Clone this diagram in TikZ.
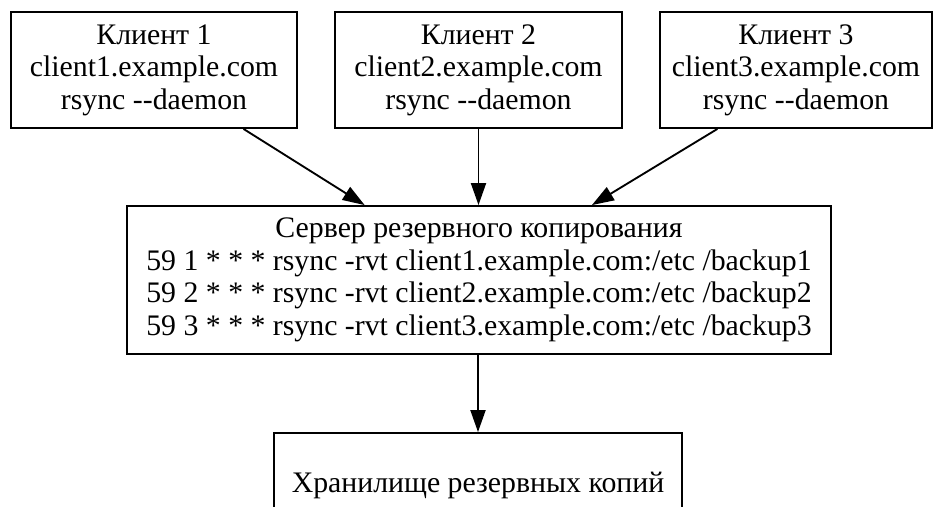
\documentclass[tikz,border=0pt]{standalone}
\usepackage{fontspec}
\setmainfont{Liberation Serif}
\usetikzlibrary{arrows.meta,calc}
\begin{document}
\begin{tikzpicture}[x=0.75pt,y=-0.75pt,
  box/.style={draw, line width=1.4pt, inner sep=0pt, align=center,
    font=\fontsize{22.35}{24.4}\selectfont},
  link/.style={line width=1.4pt, -{Triangle[length=16.5pt,width=11.25pt]}}]
\useasboundingbox (0,0) rectangle (933,507);

% clients
\node[box, minimum width=286*0.75pt, minimum height=116*0.75pt] (c1) at (154,70)
  {Клиент 1\\client1.example.com\\rsync -{}-daemon};
\node[box, minimum width=287*0.75pt, minimum height=116*0.75pt] (c2) at (478.5,70)
  {Клиент 2\\client2.example.com\\rsync -{}-daemon};
\node[box, minimum width=272*0.75pt, minimum height=116*0.75pt] (c3) at (796,70)
  {Клиент 3\\client3.example.com\\rsync -{}-daemon};

% backup server
\node[box, minimum width=704*0.75pt, minimum height=148*0.75pt] (srv) at (479,280)
  {Сервер резервного копирования\\
   59 1 * * * rsync -rvt client1.example.com:/etc /backup1\\
   59 2 * * * rsync -rvt client2.example.com:/etc /backup2\\
   59 3 * * * rsync -rvt client3.example.com:/etc /backup3};

% storage
\node[box, minimum width=408*0.75pt, minimum height=104*0.75pt] (st) at (478,485)
  {Хранилище резервных копий};

% connectors
\draw[link] ($(c1.south west)!0.811!(c1.south east)$) -- ($(srv.north west)!0.338!(srv.north east)$);
\draw[link] (c2.south) -- (c2.south |- srv.north);
\draw[link] ($(c3.south west)!0.213!(c3.south east)$) -- ($(srv.north west)!0.66!(srv.north east)$);
\draw[link] (srv.south) -- (srv.south -| st.north) -- (st.north);
\end{tikzpicture}
\end{document}
